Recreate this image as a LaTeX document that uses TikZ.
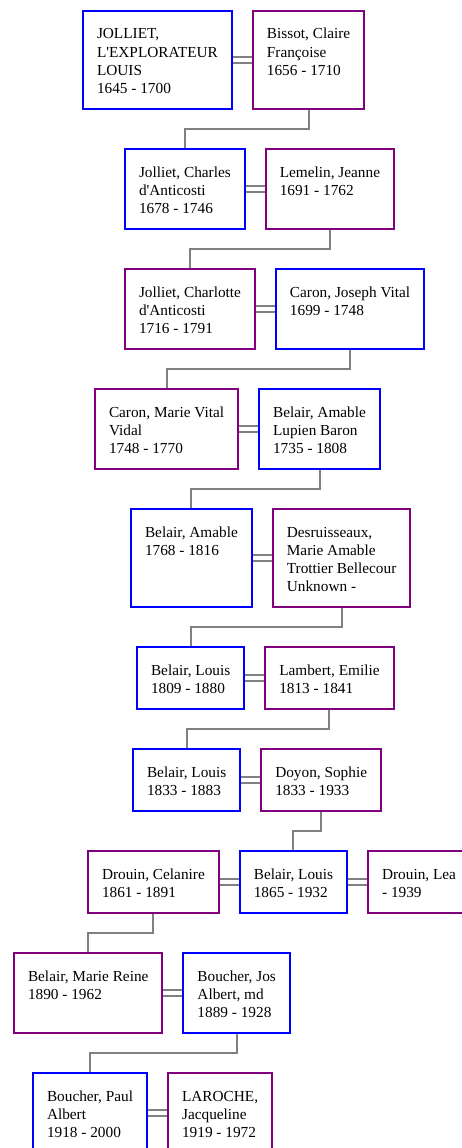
\documentclass[tikz,border=0pt]{standalone}
\usepackage{fontspec}
\setmainfont{Liberation Serif}
\usetikzlibrary{calc}

\definecolor{manblue}{HTML}{0000FF}
\definecolor{womanpurple}{HTML}{800080}
\definecolor{linkgray}{HTML}{808080}

% A person's card: fixed box height, lines of text hung from the top
\newcommand\personcard[2]{\vbox to #1pt{\vskip15.4pt\hbox{\begin{tabular}[t]{@{}l@{}}#2\end{tabular}}\vfil}}
% Marriage: two thin parallel lines between spouses
\newcommand\marry[2]{%
  \draw[wedline] ([yshift=3pt]#1.east) -- ([yshift=3pt]#2.west);
  \draw[wedline] ([yshift=-3pt]#1.east) -- ([yshift=-3pt]#2.west);}
% Descent: elbow line from a parent card down to the child card
\newcommand\descend[2]{%
  \draw[kinline] (#1.south) |- ($(#1.south)!.5!(#2.north)$) -| (#2.north);}

\begin{document}
\begin{tikzpicture}[x=1pt,y=-1pt,
  person/.style={draw, line width=2pt, fill=white, anchor=north west,
    inner xsep=14pt, inner ysep=0pt, text=black,
    font=\fontsize{15.3}{18}\selectfont},
  man/.style={person, draw=manblue},
  woman/.style={person, draw=womanpurple},
  wedline/.style={draw=linkgray, line width=1.5pt},
  kinline/.style={draw=linkgray, line width=2pt},
  spouse gap/.style={xshift=19pt}]
\useasboundingbox (0,0) rectangle (462,1148);
\clip (0,0) rectangle (462,1148);

% generation 1
\node[man] (jolliet) at (82,10) {\personcard{98}{JOLLIET,\\L\textquotesingle EXPLORATEUR\\LOUIS\\1645 - 1700}};
\node[woman] (bissot) at ([spouse gap]jolliet.north east) {\personcard{98}{Bissot, Claire\\Françoise\\1656 - 1710}};
% generation 2
\node[man] (charles) at (124,148) {\personcard{80}{Jolliet, Charles\\d\textquotesingle Anticosti\\1678 - 1746}};
\node[woman] (lemelin) at ([spouse gap]charles.north east) {\personcard{80}{Lemelin, Jeanne\\1691 - 1762}};
% generation 3
\node[woman] (charlotte) at (124,268) {\personcard{80}{Jolliet, Charlotte\\d\textquotesingle Anticosti\\1716 - 1791}};
\node[man] (caronjv) at ([spouse gap]charlotte.north east) {\personcard{80}{Caron, Joseph Vital\\1699 - 1748}};
% generation 4
\node[woman] (caronmv) at (94,388) {\personcard{80}{Caron, Marie Vital\\Vidal\\1748 - 1770}};
\node[man] (belairalb) at ([spouse gap]caronmv.north east) {\personcard{80}{Belair, Amable\\Lupien Baron\\1735 - 1808}};
% generation 5
\node[man] (belaira) at (130,508) {\personcard{98}{Belair, Amable\\1768 - 1816}};
\node[woman] (desru) at ([spouse gap]belaira.north east) {\personcard{98}{Desruisseaux,\\Marie Amable\\Trottier Bellecour\\Unknown -}};
% generation 6
\node[man] (louisa) at (136,646) {\personcard{62}{Belair, Louis\\1809 - 1880}};
\node[woman] (lambert) at ([spouse gap]louisa.north east) {\personcard{62}{Lambert, Emilie\\1813 - 1841}};
% generation 7
\node[man] (louisb) at (132,748) {\personcard{62}{Belair, Louis\\1833 - 1883}};
\node[woman] (doyon) at ([spouse gap]louisb.north east) {\personcard{62}{Doyon, Sophie\\1833 - 1933}};
% generation 8
\node[woman] (celanire) at (87,850) {\personcard{62}{Drouin, Celanire\\1861 - 1891}};
\node[man] (louisc) at ([spouse gap]celanire.north east) {\personcard{62}{Belair, Louis\\1865 - 1932}};
\node[woman] (lea) at ([spouse gap]louisc.north east) {\personcard{62}{Drouin, Lea\\- 1939}};
% generation 9
\node[woman] (reine) at (13,952) {\personcard{80}{Belair, Marie Reine\\1890 - 1962}};
\node[man] (josalbert) at ([spouse gap]reine.north east) {\personcard{80}{Boucher, Jos\\Albert, md\\1889 - 1928}};
% generation 10
\node[man] (paul) at (32,1072) {\personcard{80}{Boucher, Paul\\Albert\\1918 - 2000}};
\node[woman] (laroche) at ([spouse gap]paul.north east) {\personcard{80}{LAROCHE,\\Jacqueline\\1919 - 1972}};

% marriages
\marry{jolliet}{bissot}
\marry{charles}{lemelin}
\marry{charlotte}{caronjv}
\marry{caronmv}{belairalb}
\marry{belaira}{desru}
\marry{louisa}{lambert}
\marry{louisb}{doyon}
\marry{celanire}{louisc}
\marry{louisc}{lea}
\marry{reine}{josalbert}
\marry{paul}{laroche}

% lines of descent
\descend{bissot}{charles}
\descend{lemelin}{charlotte}
\descend{caronjv}{caronmv}
\descend{belairalb}{belaira}
\descend{desru}{louisa}
\descend{lambert}{louisb}
\descend{doyon}{louisc}
\descend{celanire}{reine}
\descend{josalbert}{paul}
\end{tikzpicture}
\end{document}
